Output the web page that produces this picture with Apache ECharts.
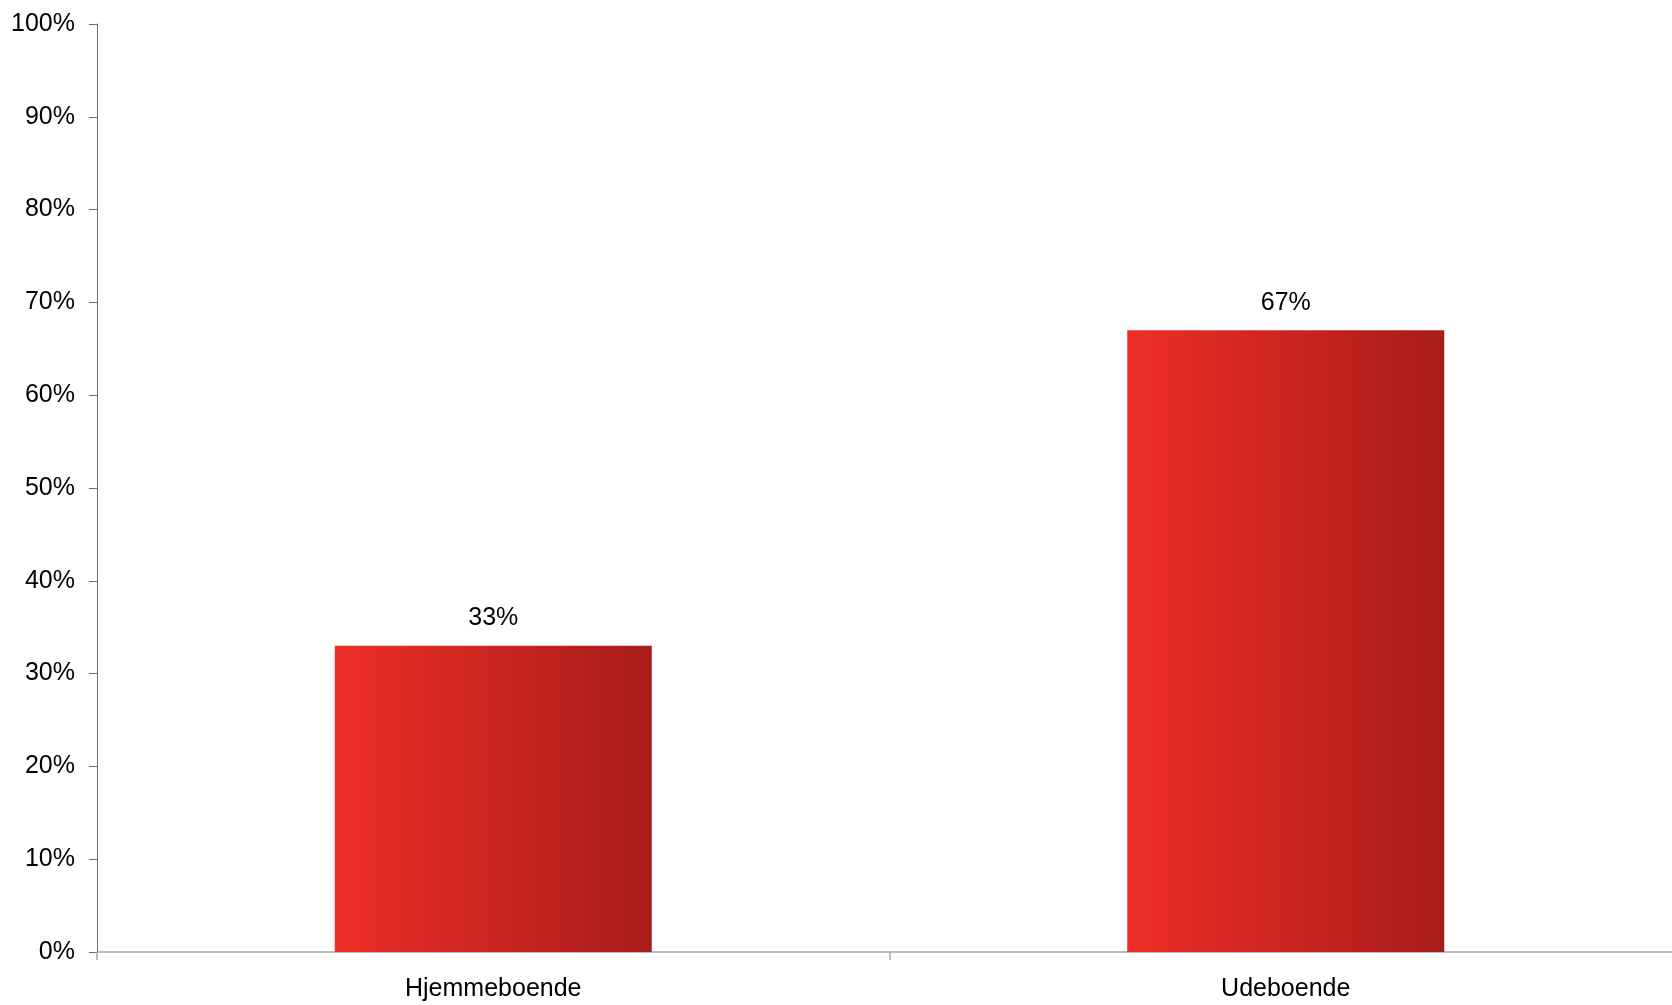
<!DOCTYPE html>
<html>
<head>
<meta charset="utf-8">
<script src="https://cdn.jsdelivr.net/npm/echarts@6/dist/echarts.min.js"></script>
<style>html,body{margin:0;padding:0;background:#fff;}#c{width:1672px;height:1005px;}</style>
</head>
<body>
<div id="c"></div>
<script>
var categories = ['Hjemmeboende', 'Udeboende'];
var values = [33, 67];
var yTicks = [0, 10, 20, 30, 40, 50, 60, 70, 80, 90, 100];

var chart = echarts.init(document.getElementById('c'), null, {renderer: 'canvas'});
chart.setOption({
  animation: false,
  backgroundColor: '#ffffff',
  textStyle: {fontFamily: 'Liberation Sans, Arial, sans-serif'},
  grid: {left: 97, top: 24, bottom: 53, width: 1585, containLabel: false, outerBoundsMode: 'none'},
  xAxis: {
    type: 'category',
    data: categories,
    axisLine: {lineStyle: {color: '#a6a6a6', width: 1.5}},
    axisTick: {show: true, length: 8, alignWithLabel: false, lineStyle: {color: '#a6a6a6', width: 1.5}},
    axisLabel: {color: '#000', fontSize: 25, margin: 25, fontFamily: 'Liberation Sans, Arial, sans-serif'}
  },
  yAxis: {
    type: 'value',
    min: 0, max: 100, interval: 10,
    splitLine: {show: false},
    axisLine: {show: true, lineStyle: {color: '#6e6e6e', width: 1}},
    axisTick: {show: true, length: 8, lineStyle: {color: '#6e6e6e', width: 1}},
    axisLabel: {color: '#000', fontSize: 25, margin: 22, formatter: function (v) { return yTicks.indexOf(v) >= 0 ? v + '%' : ''; }, fontFamily: 'Liberation Sans, Arial, sans-serif'}
  },
  series: [{
    type: 'bar',
    data: values,
    barWidth: '40%',
    itemStyle: {
      color: new echarts.graphic.LinearGradient(0, 0, 1, 0, [
        {offset: 0, color: '#ee2e28'},
        {offset: 1, color: '#a71c1a'}
      ])
    },
    label: {
      show: true, position: 'top', distance: 15,
      color: '#000', fontSize: 25,
      fontFamily: 'Liberation Sans, Arial, sans-serif',
      formatter: '{c}%'
    }
  }]
});
</script>
</body>
</html>
